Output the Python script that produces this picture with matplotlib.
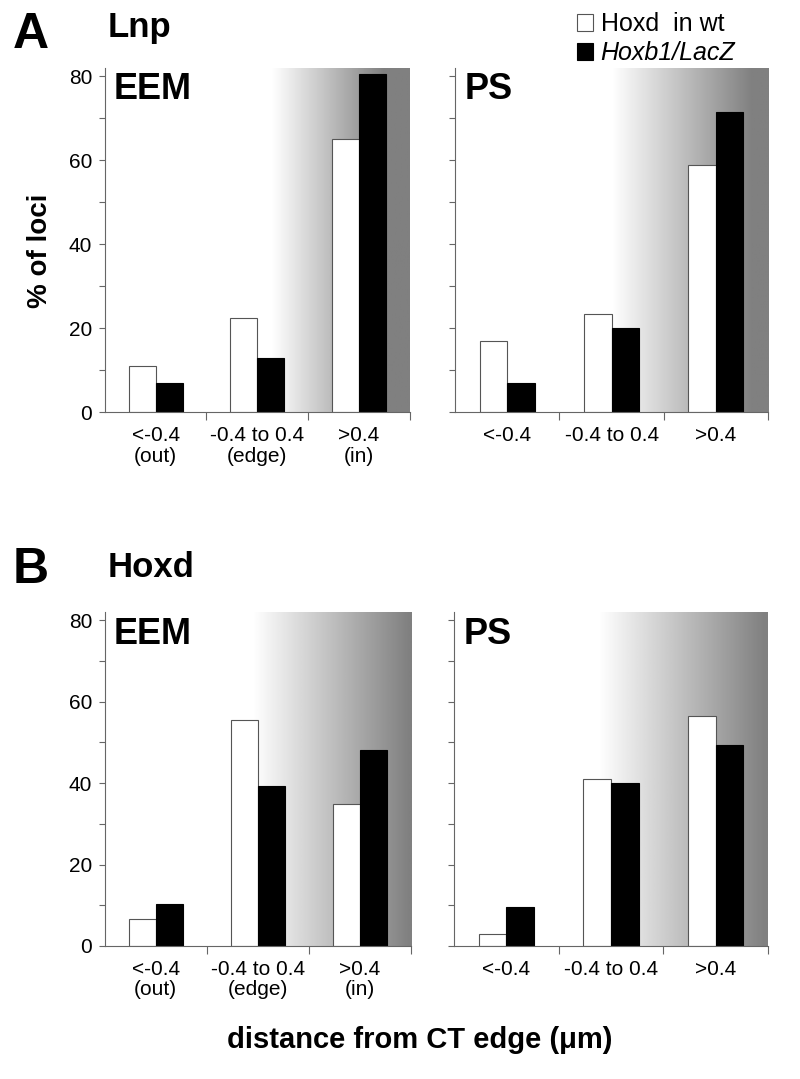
import numpy as np
import matplotlib.pyplot as plt

plt.rcParams['font.family'] = ['Liberation Sans', 'DejaVu Sans']

# categories (distance from CT edge)
cats_eem = ['<-0.4\n(out)', '-0.4 to 0.4\n(edge)', '>0.4\n(in)']
cats_ps = ['<-0.4', '-0.4 to 0.4', '>0.4']

# % of loci
lnp_eem_wt = [11, 22.5, 65]
lnp_eem_lacz = [7, 13, 80.5]
lnp_ps_wt = [17, 23.5, 59]
lnp_ps_lacz = [7, 20, 71.5]
hoxd_eem_wt = [6.6, 55.5, 34.8]
hoxd_eem_lacz = [10.3, 39.3, 48]
hoxd_ps_wt = [3, 41, 56.5]
hoxd_ps_lacz = [9.5, 40, 49.3]

series_names = ['Hoxd  in wt', 'Hoxb1/LacZ']

fig = plt.figure(figsize=(8, 10.79), dpi=100)

# axes boxes [left, bottom, width, height] in figure fractions
boxes = {
    'A_EEM': [0.131, 0.618, 0.381, 0.319],
    'A_PS': [0.569, 0.618, 0.391, 0.319],
    'B_EEM': [0.131, 0.1233, 0.3825, 0.3095],
    'B_PS': [0.5675, 0.1233, 0.3925, 0.3095],
}
# gradient start / full-grey positions in category units
ramps = {'A_EEM': (1.65, 2.75), 'A_PS': (1.5, 2.85), 'B_EEM': (1.45, 2.98), 'B_PS': (1.39, 2.98)}

panels = [
    ('A_EEM', 'EEM', cats_eem, lnp_eem_wt, lnp_eem_lacz, True),
    ('A_PS', 'PS', cats_ps, lnp_ps_wt, lnp_ps_lacz, False),
    ('B_EEM', 'EEM', cats_eem, hoxd_eem_wt, hoxd_eem_lacz, True),
    ('B_PS', 'PS', cats_ps, hoxd_ps_wt, hoxd_ps_lacz, False),
]

ymax = 82
bw = 0.265
handles = None
for key, name, cats, wt, lacz, ylab in panels:
    ax = fig.add_axes(boxes[key])
    ax.set_xlim(0, 3)
    ax.set_ylim(0, ymax)

    # grey shading towards the CT interior
    s, e = ramps[key]
    xs = np.linspace(s, 3, 300)
    t = np.clip((xs - s) / (e - s), 0, 1)
    img = (1 - 0.5 * t)[None, :]
    ax.imshow(img, cmap='gray', vmin=0, vmax=1, extent=[s, 3, 0, ymax],
              aspect='auto', zorder=0, interpolation='bilinear')

    x = np.arange(len(cats)) + 0.5
    b1 = ax.bar(x - bw / 2, wt, bw, color='white', edgecolor='#555555', linewidth=0.8, zorder=2)
    b2 = ax.bar(x + bw / 2, lacz, bw, color='black', edgecolor='black', linewidth=0.8, zorder=2)
    if handles is None:
        handles = [b1, b2]

    for sp in ['top', 'right']:
        ax.spines[sp].set_visible(False)
    for sp in ['left', 'bottom']:
        ax.spines[sp].set_color('#666666')
        ax.spines[sp].set_linewidth(0.8)

    ax.set_yticks(np.arange(0, 81, 10))
    if ylab:
        ax.set_yticklabels(['0', '', '20', '', '40', '', '60', '', '80'])
    else:
        ax.set_yticklabels([])
    ax.tick_params(axis='y', direction='out', length=4, width=0.8, color='#666666',
                   pad=5, labelsize=15)

    ax.set_xticks(x)
    ax.set_xticklabels(cats, linespacing=1.1)
    ax.set_xticks([1, 2, 3], minor=True)
    ax.tick_params(axis='x', which='major', length=0, pad=10, labelsize=15)
    ax.tick_params(axis='x', which='minor', direction='out', length=6, width=0.8, color='#666666')

    ax.text(0.03, 0.91 if key.startswith('A') else 0.905, name, transform=ax.transAxes,
            fontsize=26, fontweight='bold', va='baseline', ha='left')

fig.text(0.016, 0.9555, 'A', fontsize=36, fontweight='bold', va='baseline')
fig.text(0.134, 0.966, 'Lnp', fontsize=25, fontweight='bold', va='baseline')
fig.text(0.016, 0.4597, 'B', fontsize=36, fontweight='bold', va='baseline')
fig.text(0.134, 0.465, 'Hoxd', fontsize=25, fontweight='bold', va='baseline')

fig.text(0.05, 0.768, '% of loci', rotation=90, fontsize=20, fontweight='bold',
         ha='center', va='center')
fig.text(0.525, 1 - 1048 / 1079, 'distance from CT edge (\u03bcm)', fontsize=21,
         fontweight='bold', ha='center', va='baseline')

leg = fig.legend(handles, series_names, loc='upper left', bbox_to_anchor=(0.721, 1 - 12 / 1079),
                 frameon=False, fontsize=18, handlelength=0.65, handleheight=0.65,
                 handletextpad=0.3, labelspacing=0.2, borderpad=0, borderaxespad=0)
leg.get_texts()[1].set_style('italic')

fig.savefig('out.png', dpi=100)
